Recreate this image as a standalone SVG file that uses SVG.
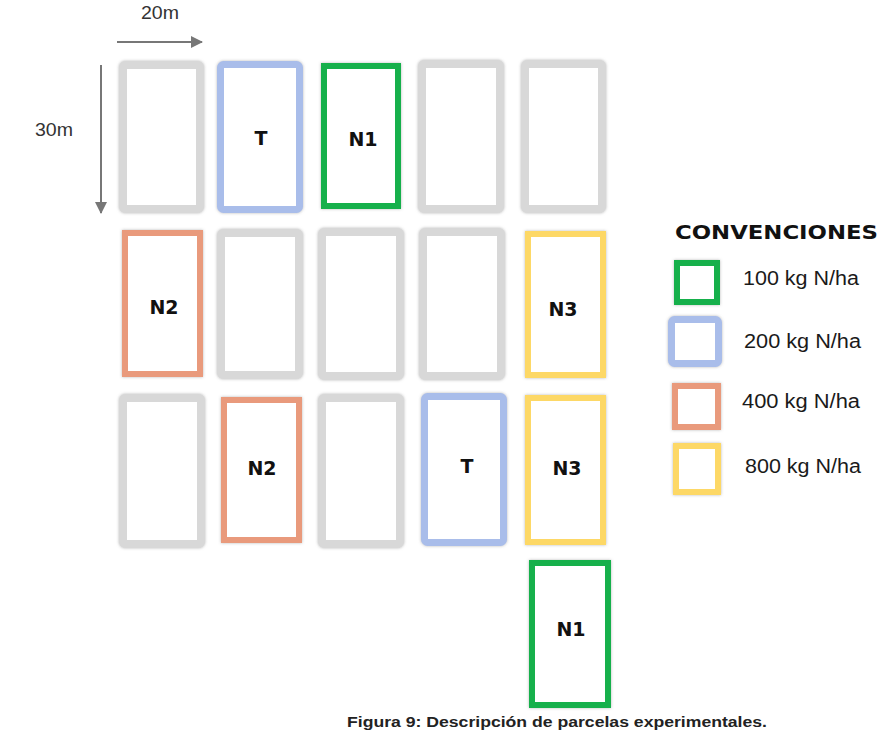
<svg xmlns="http://www.w3.org/2000/svg" width="890" height="747" viewBox="0 0 890 747">
<style>
  .plot { fill: #ffffff; }
  .gray { stroke: #d8d8d8; stroke-width: 8; }
  .blue { stroke: #a9bdea; stroke-width: 7; }
  .green { stroke: #12b04c; stroke-width: 6; }
  .orange { stroke: #e99a7c; stroke-width: 6; }
  .yellow { stroke: #fdd866; stroke-width: 6; }
  .lbl { font-family: "DejaVu Sans", "Noto Sans", sans-serif; font-weight: bold; font-size: 19px; fill: #111; text-anchor: middle; }
  .dim { font-family: "Liberation Sans", Arial, sans-serif; font-size: 18px; fill: #333; }
  .leg { font-family: "Liberation Sans", Arial, sans-serif; font-size: 20px; fill: #1a1a1a; }
  .arrow { stroke: #777; stroke-width: 2; fill: none; }
</style>
<defs>
  <filter id="sh" x="-20%" y="-20%" width="140%" height="140%">
    <feDropShadow dx="0" dy="0" stdDeviation="1.5" flood-color="#888" flood-opacity="0.6"/>
  </filter>
  <marker id="ah" viewBox="0 0 12 12" refX="11" refY="6" markerWidth="12" markerHeight="12" markerUnits="userSpaceOnUse" orient="auto">
    <path d="M0,0 L12,6 L0,12 Z" fill="#777"/>
  </marker>
</defs>
<rect width="890" height="747" fill="#ffffff"/>

<g id="dimensions">
  <text class="dim" x="141" y="19" textLength="38" lengthAdjust="spacingAndGlyphs">20m</text>
  <text class="dim" x="35" y="136" textLength="38" lengthAdjust="spacingAndGlyphs">30m</text>
</g>
<g id="connectors">
  <line class="arrow" x1="117" y1="42" x2="202" y2="42" marker-end="url(#ah)"/>
  <line class="arrow" x1="101" y1="65" x2="101" y2="213" marker-end="url(#ah)"/>
</g>

<g id="r1c1"><rect class="plot gray" filter="url(#sh)" x="123" y="65" width="77" height="144" rx="2"/></g>
<g id="r1c2"><rect class="plot blue" filter="url(#sh)" x="220.5" y="64.5" width="79" height="145" rx="3"/><text class="lbl" x="261" y="145">T</text></g>
<g id="r1c3"><rect class="plot green" filter="url(#sh)" x="324" y="66" width="74" height="140"/><text class="lbl" x="363" y="146">N1</text></g>
<g id="r1c4"><rect class="plot gray" filter="url(#sh)" x="422" y="64" width="78" height="145" rx="2"/></g>
<g id="r1c5"><rect class="plot gray" filter="url(#sh)" x="525" y="64" width="77" height="145" rx="2"/></g>

<g id="r2c1"><rect class="plot orange" filter="url(#sh)" x="125" y="233" width="75" height="141"/><text class="lbl" x="164" y="314">N2</text></g>
<g id="r2c2"><rect class="plot gray" filter="url(#sh)" x="221" y="233" width="78" height="142" rx="2"/></g>
<g id="r2c3"><rect class="plot gray" filter="url(#sh)" x="322" y="232" width="78" height="144" rx="2"/></g>
<g id="r2c4"><rect class="plot gray" filter="url(#sh)" x="423" y="232" width="78" height="144" rx="2"/></g>
<g id="r2c5"><rect class="plot yellow" filter="url(#sh)" x="528" y="234" width="75" height="141"/><text class="lbl" x="563" y="316">N3</text></g>

<g id="r3c1"><rect class="plot gray" filter="url(#sh)" x="123" y="398" width="78" height="146" rx="2"/></g>
<g id="r3c2"><rect class="plot orange" filter="url(#sh)" x="224" y="400" width="75" height="140"/><text class="lbl" x="262" y="475">N2</text></g>
<g id="r3c3"><rect class="plot gray" filter="url(#sh)" x="322" y="398" width="78" height="146" rx="2"/></g>
<g id="r3c4"><rect class="plot blue" filter="url(#sh)" x="424.5" y="396.5" width="79" height="146" rx="3"/><text class="lbl" x="467" y="473">T</text></g>
<g id="r3c5"><rect class="plot yellow" filter="url(#sh)" x="528" y="398" width="75" height="144"/><text class="lbl" x="567" y="475">N3</text></g>

<g id="r4c5"><rect class="plot green" filter="url(#sh)" x="532" y="563" width="76" height="142"/><text class="lbl" x="571" y="636">N1</text></g>

<g id="legend">
  <text x="675" y="239" font-family="DejaVu Sans, sans-serif" font-weight="bold" font-size="20" fill="#111" textLength="203" lengthAdjust="spacingAndGlyphs">CONVENCIONES</text>
  <g id="leg-100"><rect class="plot green" filter="url(#sh)" x="677" y="263" width="40" height="39"/><text class="leg" x="743" y="285" textLength="116" lengthAdjust="spacingAndGlyphs">100 kg N/ha</text></g>
  <g id="leg-200"><rect class="plot blue" filter="url(#sh)" x="671.5" y="319.5" width="47" height="44" rx="3"/><text class="leg" x="744" y="348" textLength="117" lengthAdjust="spacingAndGlyphs">200 kg N/ha</text></g>
  <g id="leg-400"><rect class="plot orange" filter="url(#sh)" x="675" y="386" width="43" height="41"/><text class="leg" x="742" y="408" textLength="118" lengthAdjust="spacingAndGlyphs">400 kg N/ha</text></g>
  <g id="leg-800"><rect class="plot yellow" filter="url(#sh)" x="676" y="446" width="42" height="46"/><text class="leg" x="745" y="473" textLength="116" lengthAdjust="spacingAndGlyphs">800 kg N/ha</text></g>
</g>

<g id="caption">
  <text x="347" y="727" font-family="Liberation Sans, Arial, sans-serif" font-weight="bold" font-size="14.5" fill="#222" textLength="420" lengthAdjust="spacingAndGlyphs">Figura 9: Descripción de parcelas experimentales.</text>
</g>
</svg>
